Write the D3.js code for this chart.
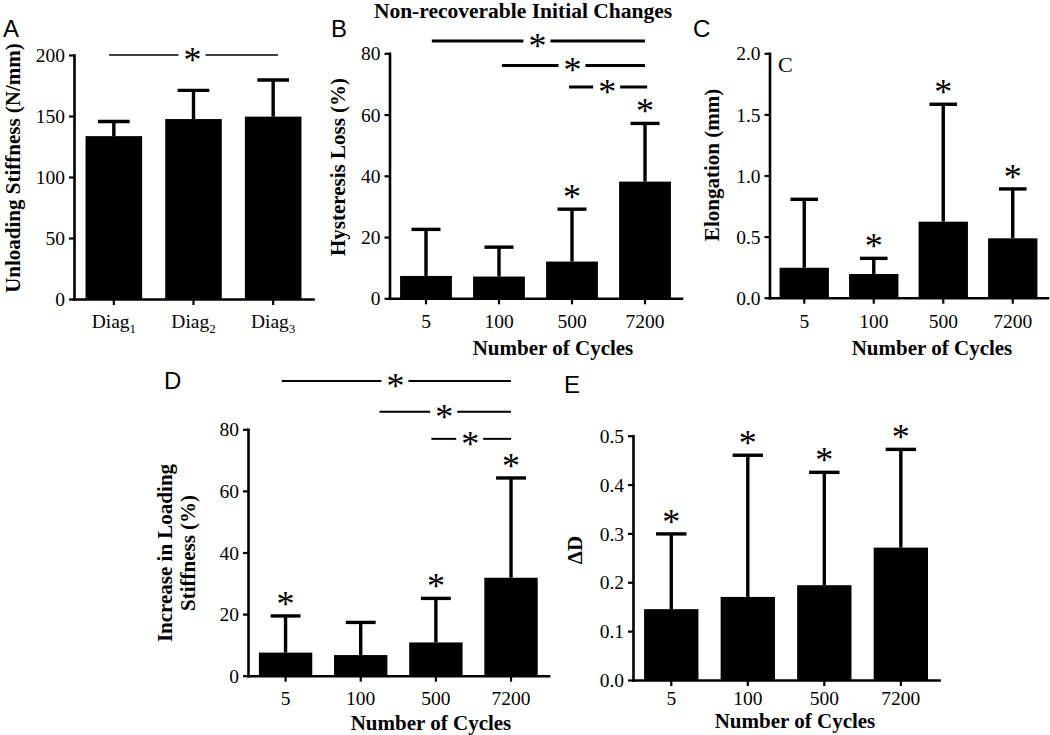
<!DOCTYPE html>
<html><head><meta charset="utf-8">
<script src="https://cdn.jsdelivr.net/npm/d3@7"></script>
<style>body{margin:0;background:#fff} svg{display:block}</style>
</head><body>
<svg id="chart" width="1050" height="735"></svg>
<script>
// ---------- data ----------
const diagCategories = ["Diag1", "Diag2", "Diag3"];
const cycleCategories = ["5", "100", "500", "7200"];

const unloadingStiffnessMean = [133.5, 147.5, 149.5];
const unloadingStiffnessSD   = [12, 23.5, 30];
const hysteresisLossMean = [7.3, 7.1, 12.0, 38.1];
const hysteresisLossSD   = [15.2, 9.6, 17.1, 19.0];
const elongationMean = [0.245, 0.194, 0.622, 0.486];
const elongationSD   = [0.56, 0.128, 0.961, 0.404];
const loadingStiffnessMean = [7.5, 6.7, 10.8, 31.8];
const loadingStiffnessSD   = [11.9, 10.6, 14.3, 32.4];
const deltaDMean = [0.145, 0.170, 0.194, 0.271];
const deltaDSD   = [0.154, 0.290, 0.231, 0.201];

const unloadingStars  = [false, false, false];
const hysteresisStars = [false, false, true, true];
const elongationStars = [false, true, true, true];
const loadingStars    = [true, false, true, true];
const deltaDStars     = [true, true, true, true];

const stiffnessTicks  = [0, 50, 100, 150, 200];
const hysteresisTicks = [0, 20, 40, 60, 80];
const elongationTicks = [0, 0.5, 1.0, 1.5, 2.0];
const loadingTicks    = [0, 20, 40, 60, 80];
const deltaDTicks     = [0, 0.1, 0.2, 0.3, 0.4, 0.5];

// significance brackets: [from category position, to category position, level]
const stiffnessBrackets  = [[-0.06, 2.06, 200]];
const hysteresisBrackets = [[0.08, 3.0, 84], [1.04, 3.0, 76], [1.96, 3.03, 69]];
const loadingBrackets    = [[-0.05, 3.0, 95.7], [1.25, 3.0, 85.7], [1.94, 3.0, 76.9]];

// ---------- drawing ----------
const svg = d3.select("#chart");
const SERIF = "'Liberation Serif','Times New Roman',serif";
const SANS = "'Liberation Sans',Arial,sans-serif";
const STAR_SIZE = 36;

function drawPanel(cfg) {
  const g = svg.append("g");
  const x = d3.scaleBand().domain(cfg.cats).range([cfg.x0, cfg.x1])
    .paddingInner(0.29).paddingOuter(0.145);
  const y = d3.scaleLinear().domain([0, cfg.max]).range([cfg.y0, cfg.yTop]);
  const bw = x.bandwidth();
  const cx = d => x(d) + bw / 2;

  // bars
  g.selectAll("rect.bar").data(cfg.cats).join("rect").attr("class", "bar")
    .attr("x", d => x(d)).attr("width", bw)
    .attr("y", (d, i) => y(cfg.mean[i]))
    .attr("height", (d, i) => y(0) - y(cfg.mean[i]))
    .attr("fill", "#000");

  // error bars (upper)
  const err = g.selectAll("g.err").data(cfg.cats).join("g").attr("class", "err");
  err.append("line")
    .attr("x1", d => cx(d)).attr("x2", d => cx(d))
    .attr("y1", (d, i) => y(cfg.mean[i]))
    .attr("y2", (d, i) => y(cfg.mean[i] + cfg.sd[i]))
    .attr("stroke", "#000").attr("stroke-width", 3.4);
  err.append("line")
    .attr("x1", d => cx(d) - bw * 0.28).attr("x2", d => cx(d) + bw * 0.28)
    .attr("y1", (d, i) => y(cfg.mean[i] + cfg.sd[i]))
    .attr("y2", (d, i) => y(cfg.mean[i] + cfg.sd[i]))
    .attr("stroke", "#000").attr("stroke-width", 3.4);

  // stars above bars
  g.selectAll("text.star").data(cfg.cats.filter((d, i) => cfg.stars[i])).join("text")
    .attr("class", "star")
    .attr("x", d => cx(d))
    .attr("y", d => { const i = cfg.cats.indexOf(d); return y(cfg.mean[i] + cfg.sd[i]) - 17 + 0.47 * STAR_SIZE; })
    .attr("text-anchor", "middle").attr("font-family", SERIF).attr("font-size", STAR_SIZE)
    .text("*");

  // significance brackets
  const x0c = cx(cfg.cats[0]), step = x.step();
  (cfg.brackets || []).forEach(b => {
    const xa = x0c + b[0] * step, xb = x0c + b[1] * step, yy = y(b[2]);
    const xm = (xa + xb) / 2;
    g.append("line").attr("x1", xa).attr("x2", xm - 15).attr("y1", yy).attr("y2", yy)
      .attr("stroke", "#000").attr("stroke-width", cfg.bracketWidth);
    g.append("line").attr("x1", xm + 12).attr("x2", xb).attr("y1", yy).attr("y2", yy)
      .attr("stroke", "#000").attr("stroke-width", cfg.bracketWidth);
    g.append("text").attr("x", xm - 1).attr("y", yy + 0.47 * STAR_SIZE)
      .attr("text-anchor", "middle").attr("font-family", SERIF).attr("font-size", STAR_SIZE).text("*");
  });

  // y axis
  const ya = g.append("g").attr("transform", `translate(${cfg.x0},0)`)
    .call(d3.axisLeft(y).tickValues(cfg.ticks).tickSize(5).tickSizeOuter(0).tickFormat(cfg.fmt));
  // x axis
  const xa = g.append("g").attr("transform", `translate(0,${cfg.y0})`)
    .call(d3.axisBottom(x).tickSize(6).tickSizeOuter(0));
  [ya, xa].forEach(a => {
    a.select(".domain").attr("stroke-width", 2.6).attr("stroke-linecap", "square");
    a.selectAll(".tick line").attr("stroke-width", 2.2);
    a.selectAll(".tick text").attr("font-family", SERIF).attr("font-size", 19.5).attr("fill", "#000");
  });
  ya.selectAll(".tick text").attr("x", -9).attr("dy", "0.34em");
  xa.selectAll(".tick text").attr("dy", null).attr("y", cfg.xTickBase - cfg.y0);
  if (cfg.subscript) {
    xa.selectAll(".tick text").each(function (d) {
      const t = d3.select(this).text("");
      t.append("tspan").text(d.slice(0, -1));
      t.append("tspan").attr("font-size", 13).attr("dy", 5).text(d.slice(-1));
    });
  }

  // axis labels
  cfg.yLabel.forEach((s, k) => {
    g.append("text").attr("transform", `translate(${cfg.yLabelX[k]},${cfg.yLabelY}) rotate(-90)`)
      .attr("text-anchor", "middle").attr("dominant-baseline", "central")
      .attr("font-family", SERIF).attr("font-weight", "bold").attr("font-size", 21).text(s);
  });
  if (cfg.xLabel) {
    g.append("text").attr("x", cfg.xLabelX).attr("y", cfg.xLabelY)
      .attr("text-anchor", "middle").attr("font-family", SERIF)
      .attr("font-weight", "bold").attr("font-size", 21).text(cfg.xLabel);
  }
  // panel letter
  svg.append("text").attr("x", cfg.letterX).attr("y", cfg.letterY)
    .attr("font-family", SANS).attr("font-size", 24).text(cfg.letter);
}

drawPanel({
  cats: diagCategories, mean: unloadingStiffnessMean, sd: unloadingStiffnessSD, stars: unloadingStars,
  ticks: stiffnessTicks, fmt: d3.format("d"), max: 200, brackets: stiffnessBrackets, bracketWidth: 1.6,
  x0: 74, x1: 313, y0: 299, yTop: 55, xTickBase: 328, subscript: true,
  yLabel: ["Unloading Stiffness (N/mm)"], yLabelX: [13], yLabelY: 168,
  letter: "A", letterX: 3, letterY: 37
});
drawPanel({
  cats: cycleCategories, mean: hysteresisLossMean, sd: hysteresisLossSD, stars: hysteresisStars,
  ticks: hysteresisTicks, fmt: d3.format("d"), max: 80, brackets: hysteresisBrackets, bracketWidth: 3,
  x0: 389.5, x1: 681.5, y0: 298.3, yTop: 53.3, xTickBase: 328,
  yLabel: ["Hysteresis Loss (%)"], yLabelX: [338], yLabelY: 167,
  xLabel: "Number of Cycles", xLabelX: 553, xLabelY: 355,
  letter: "B", letterX: 331, letterY: 37
});
drawPanel({
  cats: cycleCategories, mean: elongationMean, sd: elongationSD, stars: elongationStars,
  ticks: elongationTicks, fmt: d3.format(".1f"), max: 2, brackets: [], bracketWidth: 2,
  x0: 769.5, x1: 1047.5, y0: 297.7, yTop: 53.3, xTickBase: 328,
  yLabel: ["Elongation (mm)"], yLabelX: [712], yLabelY: 165,
  xLabel: "Number of Cycles", xLabelX: 932, xLabelY: 355,
  letter: "C", letterX: 693, letterY: 37
});
drawPanel({
  cats: cycleCategories, mean: loadingStiffnessMean, sd: loadingStiffnessSD, stars: loadingStars,
  ticks: loadingTicks, fmt: d3.format("d"), max: 80, brackets: loadingBrackets, bracketWidth: 2,
  x0: 248, x1: 548.6, y0: 675.7, yTop: 429.3, xTickBase: 705,
  yLabel: ["Increase in Loading", "Stiffness (%)"], yLabelX: [165, 188], yLabelY: 553,
  xLabel: "Number of Cycles", xLabelX: 431, xLabelY: 730,
  letter: "D", letterX: 164, letterY: 389
});
drawPanel({
  cats: cycleCategories, mean: deltaDMean, sd: deltaDSD, stars: deltaDStars,
  ticks: deltaDTicks, fmt: d3.format(".1f"), max: 0.5, brackets: [], bracketWidth: 2,
  x0: 633, x1: 939.1, y0: 680, yTop: 435.7, xTickBase: 705,
  yLabel: ["ΔD"], yLabelX: [575], yLabelY: 550,
  xLabel: "Number of Cycles", xLabelX: 795, xLabelY: 728,
  letter: "E", letterX: 564, letterY: 393
});

// title and inner label
svg.append("text").attr("x", 523).attr("y", 18).attr("text-anchor", "middle")
  .attr("font-family", SERIF).attr("font-weight", "bold").attr("font-size", 21.5)
  .text("Non-recoverable Initial Changes");
svg.append("text").attr("x", 778).attr("y", 72)
  .attr("font-family", SERIF).attr("font-size", 22).text("C");
</script>
</body></html>
